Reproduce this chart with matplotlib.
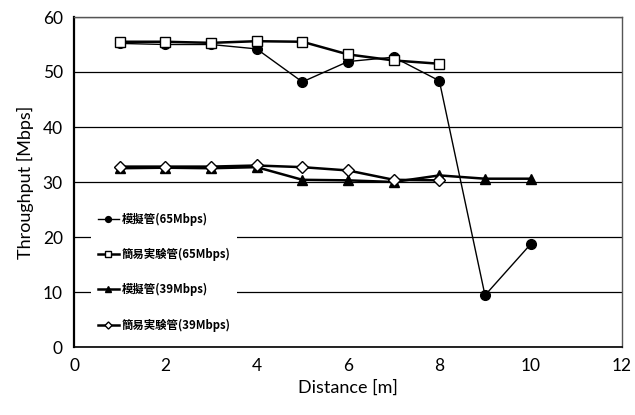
import matplotlib
matplotlib.use('Agg')
import matplotlib.pyplot as plt

plt.rcParams['font.family'] = ['Lato', 'DejaVu Sans']

# --- data ---
dist_10 = [1, 2, 3, 4, 5, 6, 7, 8, 9, 10]
dist_8 = [1, 2, 3, 4, 5, 6, 7, 8]

sim_65 = [55.2, 55.0, 55.0, 54.2, 48.2, 51.9, 52.7, 48.4, 9.4, 18.7]
easy_65 = [55.5, 55.5, 55.3, 55.6, 55.5, 53.2, 52.1, 51.5]
sim_39 = [32.5, 32.6, 32.5, 32.7, 30.4, 30.3, 30.0, 31.2, 30.6, 30.6]
easy_39 = [32.8, 32.8, 32.8, 33.0, 32.7, 32.1, 30.4, 30.3]

labels = ['模擬管(65Mbps)', '簡易実験管(65Mbps)', '模擬管(39Mbps)', '簡易実験管(39Mbps)']

x_ticks = [0, 2, 4, 6, 8, 10, 12]
y_ticks = [0, 10, 20, 30, 40, 50, 60]

fig = plt.figure(figsize=(6.35, 4.15), dpi=100)
ax = fig.add_axes([74 / 635, 1 - 347 / 415, 548 / 635, 330 / 415])

ax.plot(dist_10, sim_65, color='black', lw=1.0, marker='o', ms=7,
        mfc='black', mec='black', label=labels[0], zorder=3)
ax.plot(dist_8, easy_65, color='black', lw=1.8, marker='s', ms=7,
        mfc='white', mec='black', mew=1.0, label=labels[1], zorder=4)
ax.plot(dist_10, sim_39, color='black', lw=1.8, marker='^', ms=7,
        mfc='black', mec='black', label=labels[2], zorder=3)
ax.plot(dist_8, easy_39, color='black', lw=1.8, marker='D', ms=6,
        mfc='white', mec='black', mew=1.0, label=labels[3], zorder=4)

ax.set_xlim(0, 12)
ax.set_ylim(0, 60)
ax.set_xticks(x_ticks)
ax.set_yticks(y_ticks)
ax.tick_params(length=0, labelsize=12.5, pad=8)
ax.yaxis.grid(True, color='black', lw=0.9)
ax.set_axisbelow(True)

for side in ['top', 'right']:
    ax.spines[side].set_color('#555555')
    ax.spines[side].set_linewidth(1.0)
ax.spines['left'].set_linewidth(1.6)
ax.spines['bottom'].set_linewidth(1.2)

ax.set_xlabel('Distance [m]', fontsize=13, labelpad=4)
ax.set_ylabel('Throughput [Mbps]', fontsize=13, labelpad=6)

leg = ax.legend(loc='upper left', bbox_to_anchor=(11 / 548, 1 - 183 / 330),
                frameon=True, fancybox=False, edgecolor='none', facecolor='white',
                framealpha=1.0, handlelength=1.9, handletextpad=0.2,
                labelspacing=1.95, borderpad=0.6, markerscale=0.6,
                prop={'family': ['Noto Sans CJK JP', 'DejaVu Sans'],
                      'weight': 'bold', 'size': 8.2})
leg.set_zorder(5)

fig.savefig('out.png', dpi=100)
